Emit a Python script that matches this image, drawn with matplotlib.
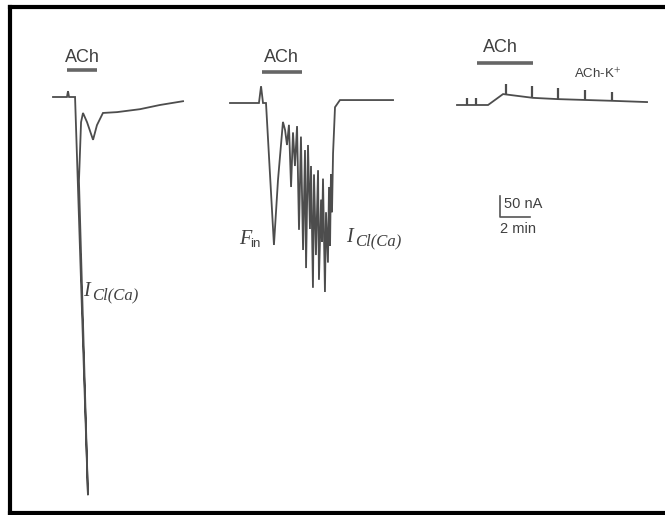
import numpy as np
import matplotlib.pyplot as plt

plt.rcParams['mathtext.fontset'] = 'stix'
plt.rcParams['font.family'] = ['Liberation Sans', 'DejaVu Sans']

# trace 1: ACh evokes one large I_Cl(Ca)   (time in min, current in nA)
t1 = [0, 0.93, 1.0, 1.07, 1.47, 2.33, 1.73, 1.87, 2.0, 2.27, 2.67, 2.93, 3.33, 4.27, 5.8, 7.13, 8.67]
i1 = [0, 0, 14, 0, 0, -948, -200, -60, -38, -60, -102, -67, -38, -36, -29, -19, -10]

# trace 2: F_in followed by oscillating I_Cl(Ca)
t2 = [0, 1.93, 2.07, 2.2, 2.4, 2.93, 3.2, 3.53, 3.67, 3.8, 3.93, 4.07, 4.2, 4.33, 4.47,
      4.6, 4.73, 4.87, 5.0, 5.07, 5.2, 5.33, 5.4, 5.53, 5.6, 5.73, 5.87, 5.93, 6.07, 6.13,
      6.2, 6.33, 6.4, 6.53, 6.6, 6.67, 6.73, 6.8, 6.87, 6.93, 7.0, 7.33, 8.7, 10.87]
i2 = [0, 0, 40, 0, 0, -338, -183, -45, -64, -100, -52, -200, -70, -150, -55,
      -302, -80, -350, -112, -393, -100, -300, -150, -440, -170, -362, -160, -421, -230, -330,
      -180, -450, -260, -380, -200, -340, -170, -260, -120, -70, -10, 7, 7, 7]

# trace 3: ACh-K+ pulses, little response
t3 = [0, 2.07, 3.07, 5.07, 6.73, 8.53, 10.33, 12.67]
i3 = [0, 0, 26, 17, 14, 12, 10, 7]
pulse_t = [0.67, 1.27, 3.27, 5.0, 6.73, 8.53, 10.33]
pulse_base = [0, 0, 25, 17, 14, 12, 10]
pulse_top = [17, 17, 51, 46, 40, 36, 31]

ach_on = [0.93, 2.13, 1.33]
ach_off = [2.93, 4.8, 5.07]

scale_na = 50
scale_min = 2

# layout (pixels of the 665x515 picture)
W, H = 665, 515
px_min = 15.0   # pixels per minute
px_na = 0.42    # pixels per nA
origins = [(53, 97), (230, 103), (457, 105)]
bar_y = [70, 72, 63]
ach_xy = [(82, 57), (281, 57), (500, 48)]
ink = '#4d4d4d'
txt = '#404040'

fig = plt.figure(figsize=(6.65, 5.15), dpi=100)
ax = fig.add_axes([0, 0, 1, 1])
ax.set_xlim(0, W / px_min)
ax.set_ylim(-H / px_na, 0)
ax.axis('off')


def at(x, y):
    return x / px_min, -y / px_na


traces = [(t1, i1), (t2, i2), (t3, i3)]
for k, (t, i) in enumerate(traces):
    x0, y0 = at(*origins[k])
    ax.plot(np.array(t) + x0, np.array(i) + y0, color=ink, lw=1.3,
            solid_joinstyle='miter')
    # ACh application bar + label
    _, by = at(0, bar_y[k])
    ax.plot([x0 + ach_on[k], x0 + ach_off[k]], [by, by], color='#666666', lw=2.6,
            solid_capstyle='butt')
    tx, ty = at(*ach_xy[k])
    ax.text(tx, ty, 'ACh', ha='center', va='center', fontsize=13, color=txt)

# ACh-K+ pulse marks on trace 3
x0, y0 = at(*origins[2])
ax.vlines(np.array(pulse_t) + x0, np.array(pulse_base) + y0, np.array(pulse_top) + y0,
          color=ink, lw=1.6)
ax.text(*at(598, 74), 'ACh-K$^{+}$', ha='center', va='center', fontsize=9.5, color=txt)


# current labels: italic serif letter with spaced-out subscript
def cur_label(x, y, main, sub, sub_sans=False):
    ax.text(*at(x, y), main, ha='left', va='center', fontsize=14.5, color=txt,
            family='Liberation Serif', style='italic')
    if sub_sans:
        ax.text(*at(x + 11, y + 4), sub, ha='left', va='center', fontsize=9.5, color=txt)
    else:
        ax.text(*at(x + 9, y + 3), sub, ha='left', va='center', fontsize=12, color=txt,
                family='Liberation Serif', style='italic')


cur_label(83, 292, 'I', 'Cl(Ca)')
cur_label(239, 240, 'F', 'in', sub_sans=True)
cur_label(346, 238, 'I', 'Cl(Ca)')

# scale bar
sx, sy = at(500, 217)
ax.plot([sx, sx, sx + scale_min], [sy + scale_na, sy, sy], color='#555555', lw=1.2)
ax.text(*at(504, 204), f'{scale_na} nA', ha='left', va='center', fontsize=10.5, color=txt)
ax.text(*at(500, 229), f'{scale_min} min', ha='left', va='center', fontsize=10.5, color=txt)

# open frame (no right edge)
fr = dict(color='black', lw=3, transform=ax.transAxes, solid_capstyle='projecting')
ax.plot([10 / W, 10 / W], [1 - 7 / H, 1 - 512.5 / H], **fr)
ax.plot([10 / W, 1.01], [1 - 7 / H, 1 - 7 / H], **fr)
ax.plot([10 / W, 1.01], [1 - 512.5 / H, 1 - 512.5 / H], **fr)

fig.savefig('out.png', dpi=100, facecolor='white')
